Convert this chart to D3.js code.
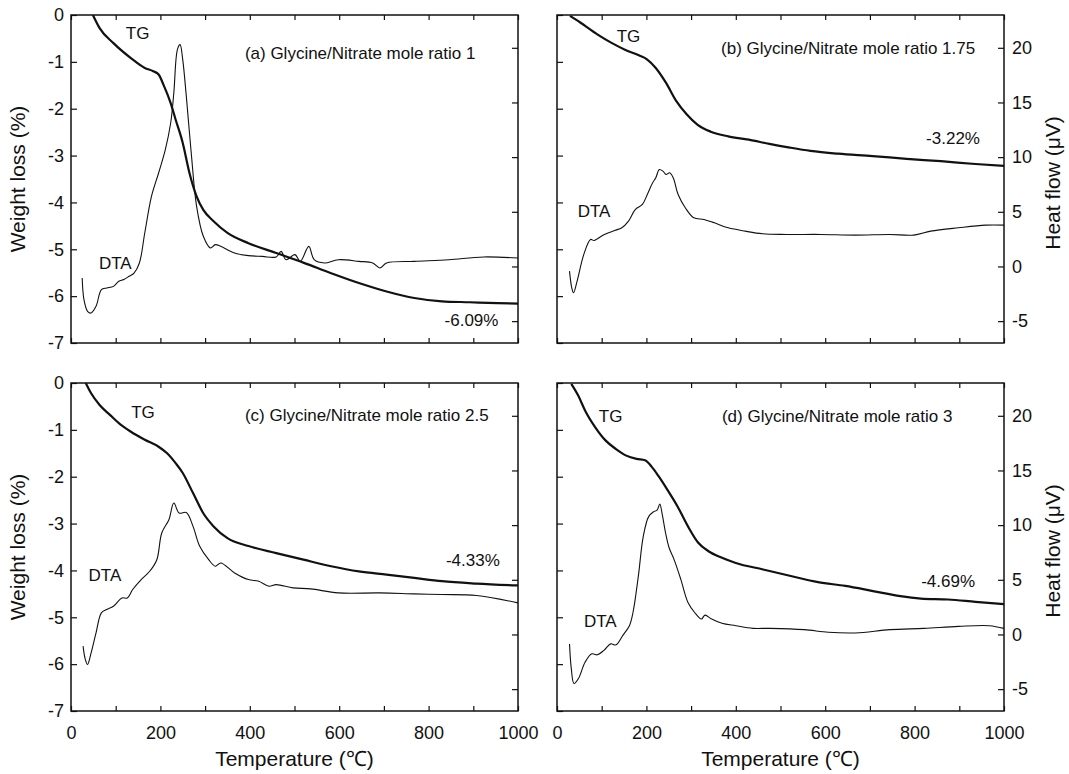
<!DOCTYPE html>
<html>
<head>
<meta charset="utf-8">
<script src="https://cdn.jsdelivr.net/npm/d3@7"></script>
<style>
  body { margin: 0; background: #fff; }
  svg text { font-family: "Liberation Sans", Arial, sans-serif; fill: #111; }
  .frame { fill: none; stroke: #111; stroke-width: 1.5px; }
  .tick line { stroke: #111; stroke-width: 1.2px; }
  .tg { fill: none; stroke: #111; stroke-width: 2.2px; }
  .dta { fill: none; stroke: #111; stroke-width: 1.1px; }
</style>
</head>
<body>
<div id="chart"></div>
<script>
// temperature (C) / weight loss (%) for TG, temperature / heat flow (uV) for DTA
var tgA = [[49,0],[64,-0.28],[95,-0.6],[134,-0.92],[165,-1.13],[184,-1.2],[196,-1.27],[207,-1.49],[223,-1.88],[234,-2.23],[250,-2.73],[265,-3.37],[281,-3.87],[296,-4.16],[319,-4.4],[350,-4.65],[397,-4.87],[459,-5.08],[521,-5.29],[582,-5.51],[644,-5.72],[706,-5.9],[768,-6.04],[830,-6.11],[892,-6.13],[954,-6.15],[1000,-6.16]];
var dtaA = [[25,-1.05],[29,-3.04],[37,-4.1],[45,-4.26],[56,-3.65],[68,-2.12],[80,-1.97],[95,-1.82],[107,-1.36],[118,-1.2],[130,-0.9],[141,-0.6],[153,0.32],[165,3.06],[180,6.41],[196,8.55],[211,10.68],[223,13.12],[230,15.86],[238,19.83],[244,20.29],[250,18.9],[258,15.56],[269,10.38],[281,5.5],[296,2.76],[312,1.69],[323,2.0],[335,1.84],[366,1.23],[397,0.99],[428,0.92],[459,0.87],[470,1.38],[481,0.62],[501,1.08],[513,0.47],[532,1.84],[544,0.62],[567,0.32],[598,0.62],[644,0.47],[675,0.32],[691,-0.14],[706,0.32],[768,0.47],[845,0.62],[923,0.87],[1000,0.77]];

var tgB = [[29,-0.02],[52,-0.16],[91,-0.42],[121,-0.59],[152,-0.74],[183,-0.86],[202,-0.95],[221,-1.13],[244,-1.45],[267,-1.84],[290,-2.12],[314,-2.34],[344,-2.49],[383,-2.59],[429,-2.66],[475,-2.75],[521,-2.83],[567,-2.9],[629,-2.96],[706,-3.01],[782,-3.07],[859,-3.12],[936,-3.18],[1000,-3.22]];
var dtaB = [[28,-0.43],[33,-1.95],[37,-2.41],[45,-1.34],[60,1.1],[75,2.47],[83,2.38],[106,2.93],[129,3.29],[145,3.54],[160,4.15],[175,5.21],[191,5.67],[202,6.59],[214,7.65],[221,8.11],[229,8.87],[237,8.72],[244,8.41],[252,8.57],[260,8.11],[271,6.59],[287,5.37],[306,4.45],[329,4.3],[352,3.99],[383,3.54],[421,3.23],[460,2.99],[513,2.93],[590,2.93],[667,2.87],[744,2.93],[798,2.87],[836,3.23],[898,3.54],[959,3.78],[1000,3.78]];

var tgC = [[33,0],[45,-0.22],[64,-0.47],[87,-0.68],[111,-0.89],[134,-1.04],[165,-1.21],[196,-1.36],[215,-1.5],[234,-1.71],[250,-1.92],[273,-2.35],[296,-2.78],[319,-3.06],[350,-3.31],[397,-3.48],[459,-3.63],[520,-3.77],[582,-3.91],[644,-4.02],[706,-4.09],[768,-4.16],[830,-4.23],[907,-4.28],[1000,-4.32]];
var dtaC = [[27,-1.07],[32,-2.28],[37,-2.74],[45,-1.68],[56,0.15],[68,1.98],[80,2.28],[95,2.58],[114,3.34],[126,3.34],[138,4.11],[157,5.02],[176,5.78],[192,6.84],[203,9.28],[219,10.5],[230,12.02],[242,11.1],[258,11.16],[273,9.89],[288,8.06],[308,6.84],[323,6.24],[335,6.54],[366,5.63],[397,5.02],[420,4.87],[443,4.41],[459,4.56],[497,4.26],[536,4.17],[598,3.8],[691,3.8],[768,3.71],[830,3.65],[907,3.56],[1000,2.89]];

var tgD = [[32,-0.02],[48,-0.28],[63,-0.59],[86,-0.95],[109,-1.23],[132,-1.41],[155,-1.55],[178,-1.62],[197,-1.65],[212,-1.79],[228,-2.0],[247,-2.28],[270,-2.64],[293,-3.06],[316,-3.41],[339,-3.59],[369,-3.73],[400,-3.84],[461,-3.98],[523,-4.12],[584,-4.25],[645,-4.33],[707,-4.44],[768,-4.55],[814,-4.6],[875,-4.62],[936,-4.67],[1000,-4.72]];
var dtaD = [[28,-0.86],[32,-3.13],[38,-4.49],[48,-4.03],[63,-2.52],[78,-1.77],[90,-1.86],[105,-1.46],[120,-0.86],[132,-0.95],[147,-0.1],[162,0.8],[170,2.01],[182,5.34],[193,8.97],[205,10.78],[216,11.23],[224,11.38],[230,11.93],[235,11.08],[243,9.27],[251,7.91],[262,6.85],[277,5.04],[293,2.92],[308,2.01],[323,1.41],[331,1.77],[346,1.41],[369,1.02],[400,0.8],[438,0.56],[477,0.56],[553,0.44],[607,0.2],[668,0.14],[745,0.44],[821,0.56],[898,0.74],[967,0.8],[1000,0.56]];

var titles = ["(a) Glycine/Nitrate mole ratio 1", "(b) Glycine/Nitrate mole ratio 1.75",
  "(c) Glycine/Nitrate mole ratio 2.5", "(d) Glycine/Nitrate mole ratio 3"];
var finalLoss = ["-6.09%", "-3.22%", "-4.33%", "-4.69%"];

var xTicks = d3.range(0, 1001, 100);
var xLabels = d3.range(0, 1001, 200);
var wTicks = d3.range(-7, 0.5, 1);
var hTicks = d3.range(-5, 21, 5);

var width = 1069, height = 774;
var pw = 447, ph = 328;

// plain hyphen minus and no thousands separator, as in the figure
var plain = function(d) { return String(d); };

// panel placement + label spots (in data units: temperature, weight loss)
var panels = [
  { x: 71,  y: 15,  tg: tgA, dta: dtaA, left: true,  right: false, bottom: false,
    tgAt: [149, -0.38], dtaAt: [99, -5.29], pctAt: [896, -6.5], titleAt: [389, -0.81] },
  { x: 557, y: 15,  tg: tgB, dta: dtaB, left: false, right: true,  bottom: false,
    tgAt: [160, -0.45], dtaAt: [83, -4.19], pctAt: [886, -2.62], titleAt: [367, -0.7] },
  { x: 71,  y: 383, tg: tgC, dta: dtaC, left: true,  right: false, bottom: true,
    tgAt: [161, -0.61], dtaAt: [76, -4.09], pctAt: [899, -3.77], titleAt: [389, -0.68] },
  { x: 557, y: 383, tg: tgD, dta: dtaD, left: false, right: true,  bottom: true,
    tgAt: [120, -0.7], dtaAt: [97, -5.08], pctAt: [875, -4.23], titleAt: [369, -0.7] }
];

var svg = d3.select("#chart").append("svg")
  .attr("width", width)
  .attr("height", height);

var x = d3.scaleLinear().domain([0, 1000]).range([0, pw]);
var yW = d3.scaleLinear().domain([-7, 0]).range([ph, 0]);
var yH = d3.scaleLinear().domain([-7, 23]).range([ph, 0]);

svg.append("defs").append("clipPath").attr("id", "clip")
  .append("rect").attr("width", pw).attr("height", ph);

var tgLine = d3.line()
  .x(function(d) { return x(d[0]); })
  .y(function(d) { return yW(d[1]); })
  .curve(d3.curveMonotoneX);

var dtaLine = d3.line()
  .x(function(d) { return x(d[0]); })
  .y(function(d) { return yH(d[1]); })
  .curve(d3.curveCatmullRom.alpha(0.5));

panels.forEach(function(p, i) {
  var g = svg.append("g").attr("transform", "translate(" + p.x + "," + p.y + ")");

  // inward ticks on all four sides
  g.append("g").attr("transform", "translate(0," + ph + ")")
    .call(d3.axisBottom(x).tickValues(xTicks).tickSize(-5).tickFormat(""));
  g.append("g")
    .call(d3.axisTop(x).tickValues(xTicks).tickSize(-5).tickFormat(""));
  g.append("g")
    .call(d3.axisLeft(yW).tickValues(wTicks).tickSize(-6).tickFormat(""));
  g.append("g").attr("transform", "translate(" + pw + ",0)")
    .call(d3.axisRight(yH).tickValues(hTicks).tickSize(-6).tickFormat(""));
  g.selectAll(".domain").remove();

  if (p.left) {
    var la = g.append("g")
      .call(d3.axisLeft(yW).tickValues(wTicks).tickSize(0).tickPadding(7).tickFormat(plain));
    la.select(".domain").remove();
    la.selectAll("text").style("font-size", "18px");
    g.append("text")
      .attr("transform", "translate(-46," + ph / 2 + ") rotate(-90)")
      .attr("text-anchor", "middle")
      .style("font-size", "21px")
      .text("Weight loss (%)");
  }
  if (p.right) {
    var ra = g.append("g").attr("transform", "translate(" + pw + ",0)")
      .call(d3.axisRight(yH).tickValues(hTicks).tickSize(0).tickPadding(8).tickFormat(plain));
    ra.select(".domain").remove();
    ra.selectAll("text").style("font-size", "18px");
    g.append("text")
      .attr("transform", "translate(" + (pw + 56) + "," + (ph / 2 + 4) + ") rotate(-90)")
      .attr("text-anchor", "middle")
      .style("font-size", "21px")
      .text("Heat flow (\u03bcV)");
  }
  if (p.bottom) {
    var ba = g.append("g").attr("transform", "translate(0," + ph + ")")
      .call(d3.axisBottom(x).tickValues(xLabels).tickSize(0).tickPadding(15).tickFormat(plain));
    ba.select(".domain").remove();
    ba.selectAll("text").style("font-size", "18px");
    g.append("text")
      .attr("x", pw / 2)
      .attr("y", ph + 55)
      .attr("text-anchor", "middle")
      .style("font-size", "21px")
      .text("Temperature (\u2103)");
  }

  var plot = g.append("g").attr("clip-path", "url(#clip)");
  plot.append("path").datum(p.dta).attr("class", "dta").attr("d", dtaLine);
  plot.append("path").datum(p.tg).attr("class", "tg").attr("d", tgLine);

  g.append("rect").attr("class", "frame").attr("width", pw).attr("height", ph);

  var notes = [
    { at: p.tgAt, text: "TG", anchor: "middle" },
    { at: p.dtaAt, text: "DTA", anchor: "middle" },
    { at: p.pctAt, text: finalLoss[i], anchor: "middle" },
    { at: p.titleAt, text: titles[i], anchor: "start" }
  ];
  g.selectAll(".note").data(notes).enter().append("text")
    .attr("class", "note")
    .attr("x", function(d) { return x(d.at[0]); })
    .attr("y", function(d) { return yW(d.at[1]); })
    .attr("dy", "0.35em")
    .attr("text-anchor", function(d) { return d.anchor; })
    .style("font-size", "17px")
    .text(function(d) { return d.text; });
});
</script>
</body>
</html>
